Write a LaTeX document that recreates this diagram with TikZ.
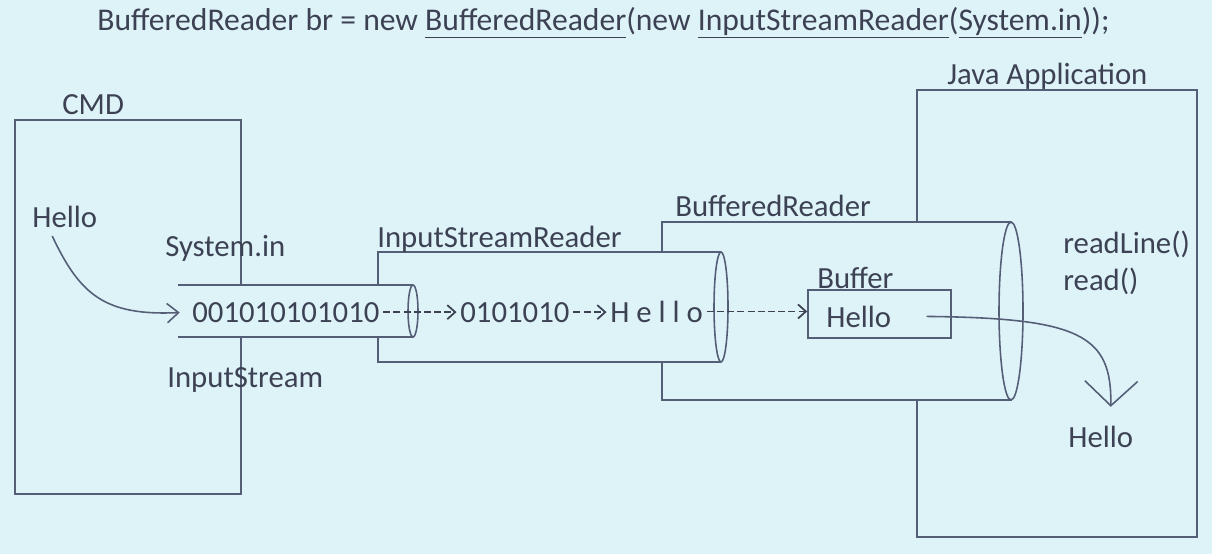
\documentclass[tikz,border=0pt]{standalone}
\usepackage{fontspec}
\setmainfont{Carlito}
\usetikzlibrary{arrows.meta,positioning,calc}
\definecolor{slidebg}{RGB}{222,243,248}
\definecolor{inkgray}{RGB}{60,66,84}
\definecolor{linegray}{RGB}{84,94,118}
\newcommand{\codeul}[1]{\underline{\smash{#1}\rule[-2pt]{0pt}{1pt}}}

\begin{document}
\begin{tikzpicture}[x=0.02cm,y=-0.02cm,
  lbl/.style={font=\fontsize{17.5}{20}\selectfont,text=inkgray,anchor=base west,inner sep=0pt},
  flow/.style={lbl,inner sep=2pt},
  wall/.style={draw=linegray,line width=0.9pt},
  pipe/.style={draw=linegray,line width=0.9pt,fill=slidebg},
  hop/.style={draw=inkgray,line width=1pt,dash pattern=on 4pt off 1.8pt,-{Straight Barb[length=4.5pt,width=8pt]}},
  feed/.style={draw=linegray,line width=0.9pt,-{Straight Barb[length=6.5pt,width=11pt]}}]
  % background
  \fill[slidebg] (0,0) rectangle (1212,554);
  \useasboundingbox (0,0) rectangle (1212,554);
  % statement
  \node[lbl,font=\fontsize{18}{22}\selectfont] (stmt) at (97,31) {BufferedReader br = new \codeul{BufferedReader}(new \codeul{InputStreamReader}(\codeul{System.in}));};
  % CMD and Java Application windows
  \draw[wall] (15,120) rectangle (241,494);
  \node[lbl] (cmd) at (62,114) {CMD};
  \draw[wall] (917,90) rectangle (1197,537);
  \node[lbl] (java) at (947,85) {Java Application};
  % BufferedReader pipe
  \fill[slidebg] (662,222) rectangle (1012,400);
  \draw[wall] (1012,222) -- (662,222) -- (662,400) -- (1012,400);
  \draw[pipe] (1011,311) ellipse [x radius=12,y radius=89];
  % InputStreamReader pipe
  \fill[slidebg] (378,252) rectangle (721,362);
  \draw[wall] (721,252) -- (378,252) -- (378,362) -- (721,362);
  \draw[pipe] (721,307) ellipse [x radius=7,y radius=55];
  % InputStream pipe
  \fill[slidebg] (178,285) rectangle (413,337);
  \draw[wall] (178,285) -- (413,285) (178,337) -- (413,337);
  \draw[pipe] (413,311) ellipse [x radius=5,y radius=26];
  % labels
  \node[lbl] (sysin) at (165,256) {System.in};
  \node[lbl] (instream) at (167,387) {InputStream};
  \node[lbl] (isr) at (377,247) {InputStreamReader};
  \node[lbl] (brlbl) at (675,216) {BufferedReader};
  \node[lbl] (buflbl) at (817,288) {Buffer};
  \node[lbl] (rl) at (1063,253) {readLine()};
  \node[lbl] (rd) at (1063,290) {read()};
  % data flow
  \node[flow] (hin) at (28.5,227) {Hello};
  \node[flow] (bits) at (188.5,322) {001010101010};
  \node[flow] (chars) at (456.5,322) {0101010};
  \node[flow] (letters) at (606.5,322) {H e l l o};
  \node[draw=linegray,line width=0.9pt,minimum width=2.86cm,minimum height=0.96cm,inner sep=0pt] (buf) at (879.5,314) {};
  \node[flow] (bufhello) at (822.5,327) {Hello};
  \node[flow] (hout) at (1064.5,447) {Hello};
  \draw[feed,shorten >=5pt] ([xshift=-0.25cm,yshift=-0.1cm]hin.south) .. controls (80,295) and (105,316) .. (bits.west);
  \draw[hop] (bits.east) -- (bits.east -| chars.west);
  \draw[hop] (chars.east) -- (chars.east -| letters.west);
  \draw[hop] (letters.east) -- (letters.east -| buf.west);
  \draw[feed,-{Straight Barb[length=14pt,width=30pt]}] ([xshift=0.63cm]bufhello.east) .. controls (1080,318) and (1112,335) .. ([xshift=0.2cm,yshift=0.3cm]hout.north);
\end{tikzpicture}
\end{document}
